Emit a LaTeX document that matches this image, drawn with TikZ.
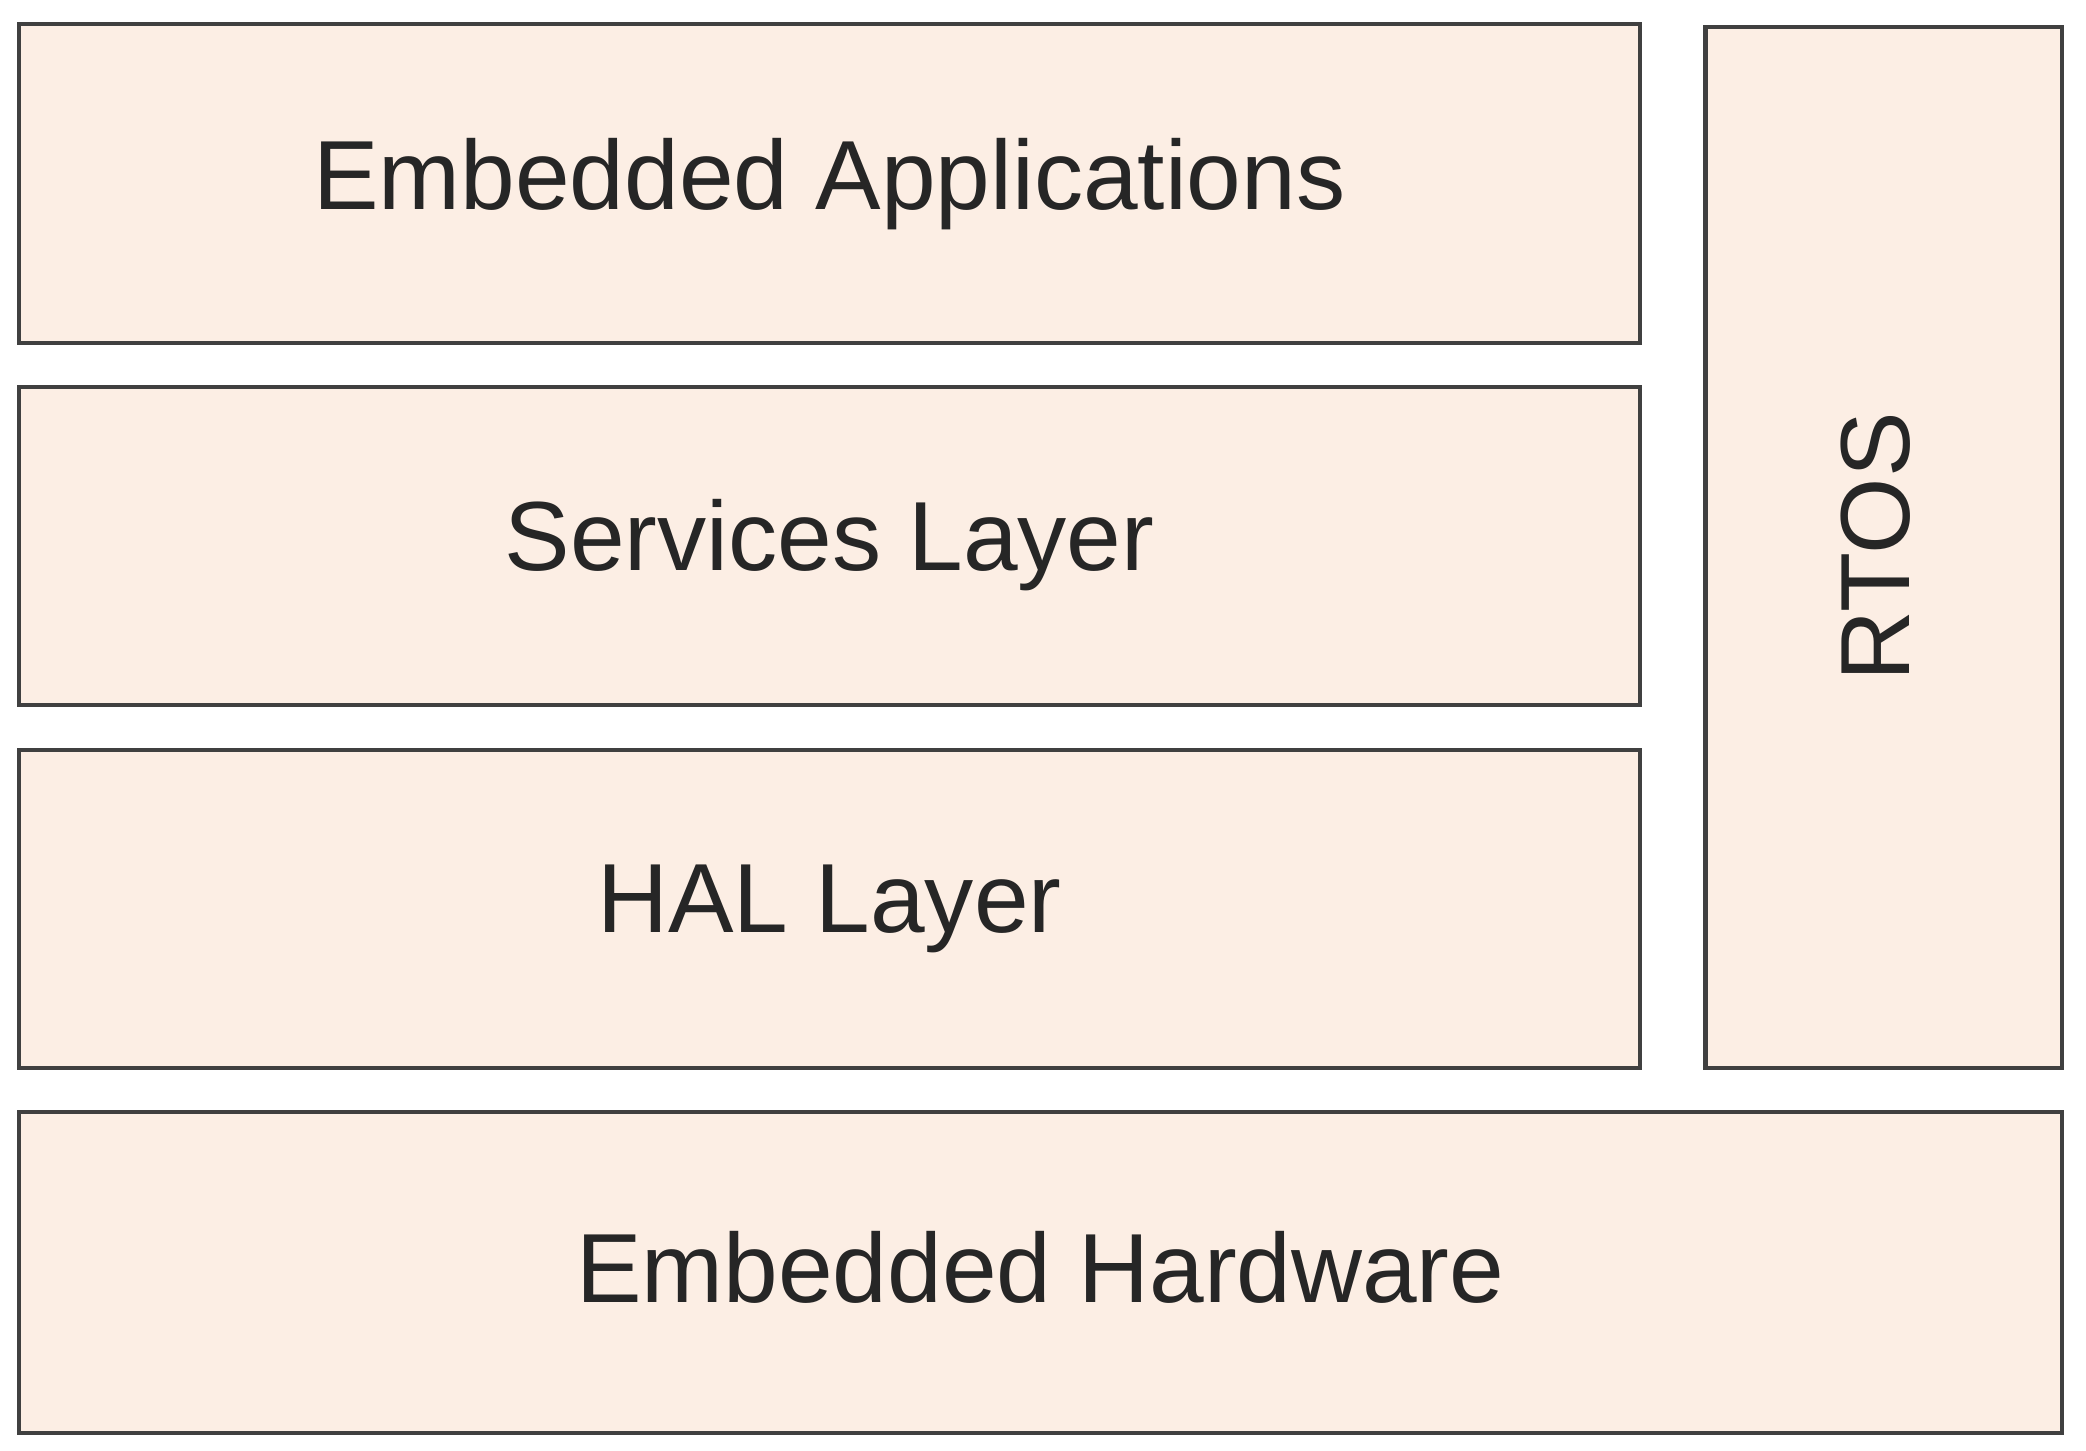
\documentclass[tikz,border=0pt]{standalone}
\usepackage{fontspec}
\setmainfont{Liberation Sans}
\begin{document}
\begin{tikzpicture}[x=0.01cm,y=-0.01cm,
  layer/.style={draw=black!75,fill={rgb,255:red,252;green,238;blue,228},line width=0.9pt},
  lbl/.style={font=\fontsize{21}{25}\selectfont,text=black!85}]
\useasboundingbox (0,0) rectangle (1568,1090);
\draw[layer] (14,18) rectangle (1233,258);
\node[lbl] (apps) at (623.5,138) {Embedded Applications};
\draw[layer] (14,291) rectangle (1233,530);
\node[lbl] (svc) at (623.5,410) {Services Layer};
\draw[layer] (14,564) rectangle (1233,803);
\node[lbl] (hal) at (623.5,683) {HAL Layer};
\draw[layer] (1282,20) rectangle (1550,803);
\node[lbl,rotate=90] (rtos) at (1410,411) {RTOS};
\draw[layer] (14,836) rectangle (1550,1077);
\node[lbl] (hw) at (782,953) {Embedded Hardware};
\end{tikzpicture}
\end{document}
